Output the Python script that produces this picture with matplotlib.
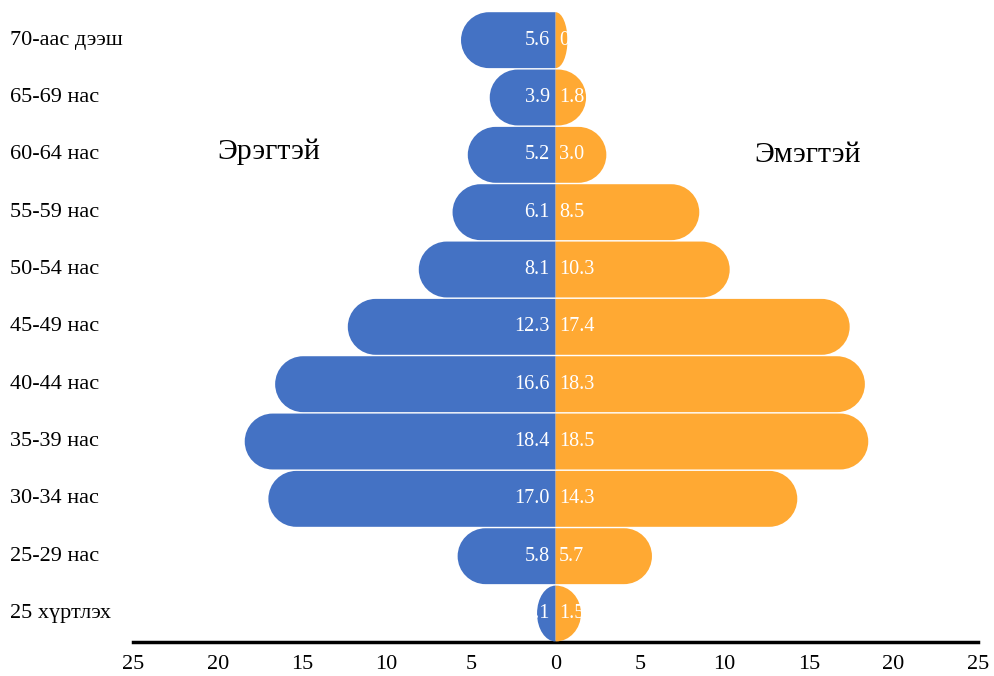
import numpy as np
import matplotlib
matplotlib.use('Agg')
import matplotlib.pyplot as plt
from matplotlib.path import Path
from matplotlib.patches import PathPatch

plt.rcParams['font.family'] = ['Liberation Serif', 'DejaVu Serif']

# Data (bottom to top)
age_groups = ['25 хүртлэх', '25-29 нас', '30-34 нас', '35-39 нас', '40-44 нас',
              '45-49 нас', '50-54 нас', '55-59 нас', '60-64 нас', '65-69 нас',
              '70-аас дээш']
male = [1.1, 5.8, 17.0, 18.4, 16.6, 12.3, 8.1, 6.1, 5.2, 3.9, 5.6]
female = [1.5, 5.7, 14.3, 18.5, 18.3, 17.4, 10.3, 8.5, 3.0, 1.8, 0.7]
x_ticks = [-25, -20, -15, -10, -5, 0, 5, 10, 15, 20, 25]

blue = '#4472C4'
orange = '#FFA933'

fig = plt.figure(figsize=(9.94, 6.76), dpi=100)
ax = fig.add_axes([0.134, 0.050, 0.850, 0.933])
ax.set_xlim(-25, 25)
ax.set_ylim(-0.5, len(age_groups) - 0.5)

# pixels per data unit, used to make the bar ends true semicircles
p0 = ax.transData.transform((0, 0))
p1 = ax.transData.transform((1, 1))
sx = p1[0] - p0[0]
sy = p1[1] - p0[1]

bar_h = 0.975
K = 0.5523


def half_pill(y, v, color):
    # rectangle from 0 to v, outer end rounded
    s = 1 if v >= 0 else -1
    w = abs(v)
    ry = bar_h / 2
    rx = min(ry * sy / sx, w)
    xc = v - s * rx
    verts = [
        (0, y - ry),
        (xc, y - ry),
        (xc + s * K * rx, y - ry), (v, y - K * ry), (v, y),
        (v, y + K * ry), (xc + s * K * rx, y + ry), (xc, y + ry),
        (0, y + ry),
        (0, y - ry),
    ]
    codes = [Path.MOVETO, Path.LINETO,
             Path.CURVE4, Path.CURVE4, Path.CURVE4,
             Path.CURVE4, Path.CURVE4, Path.CURVE4,
             Path.LINETO, Path.CLOSEPOLY]
    ax.add_patch(PathPatch(Path(verts, codes), facecolor=color,
                           edgecolor='none', zorder=2))


for i in range(len(age_groups)):
    half_pill(i, -male[i], blue)
    half_pill(i, female[i], orange)
    ax.text(-0.35, i, f'{male[i]:.1f}', ha='right', va='center',
            color='white', fontsize=14.5, zorder=3)
    ax.text(0.2, i, f'{female[i]:.1f}', ha='left', va='center',
            color='white', fontsize=14.5, zorder=3)

# y labels at the left edge of the figure
for i, lab in enumerate(age_groups):
    yd = ax.transData.transform((0, i))[1]
    fig.text(10 / 994, yd / 676, lab, ha='left', va='center', fontsize=16)

ax.text(-17.0, 8.05, 'Эрэгтэй', ha='center', va='center', fontsize=21.5)
ax.text(14.9, 8.0, 'Эмэгтэй', ha='center', va='center', fontsize=21.5)

ax.set_xticks(x_ticks)
ax.set_xticklabels([str(abs(t)) for t in x_ticks], fontsize=16)
ax.tick_params(axis='x', length=0, pad=9)
ax.set_yticks([])
for sp in ['top', 'right', 'left']:
    ax.spines[sp].set_visible(False)
ax.spines['bottom'].set_linewidth(2.5)
ax.spines['bottom'].set_zorder(1)

fig.savefig('out.png', dpi=100)
